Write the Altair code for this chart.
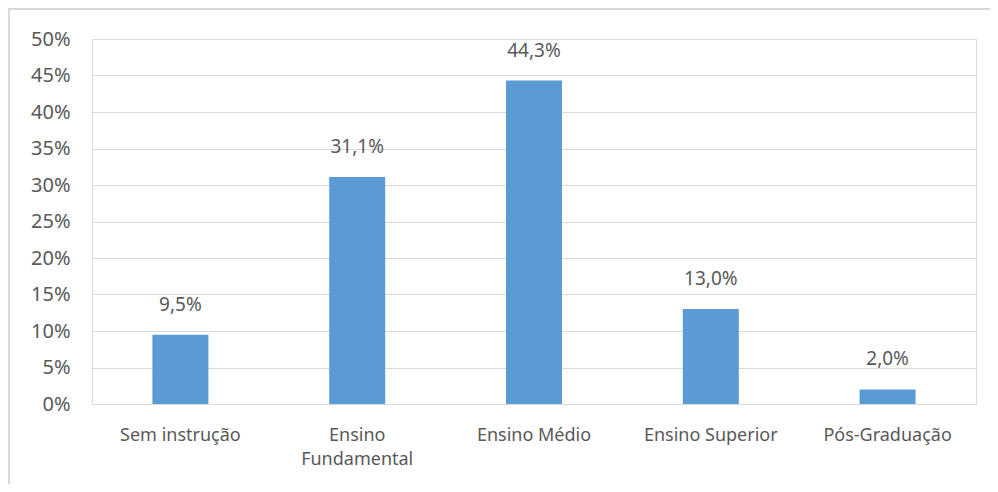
import altair as alt
import pandas as pd

categories = ["Sem instrução", "Ensino Fundamental", "Ensino Médio", "Ensino Superior", "Pós-Graduação"]
values = [9.5, 31.1, 44.3, 13.0, 2.0]
labels = [f"{v:.1f}%".replace(".", ",") for v in values]
y_ticks = [0, 5, 10, 15, 20, 25, 30, 35, 40, 45, 50]

df = pd.DataFrame({"cat": categories, "val": values, "lab": labels})

W, H = 884, 365
PL, PT, PR, PB = 84, 31, 14, 80
FONT = "Noto Sans"
GRAY = "#595959"

x = alt.X("cat:N", sort=categories,
          scale=alt.Scale(paddingInner=0, paddingOuter=0),
          axis=alt.Axis(title=None, labelAngle=0, ticks=False, domainColor="#d9d9d9",
                        domainWidth=1, labelFont=FONT, labelFontSize=18, labelColor=GRAY,
                        labelPadding=22, labelLineHeight=24, labelLimit=300,
                        labelExpr="datum.label == 'Ensino Fundamental' ? ['Ensino', 'Fundamental'] : datum.label"))
y = alt.Y("val:Q", scale=alt.Scale(domain=[0, 50]),
          axis=alt.Axis(title=None, values=y_ticks, labelExpr="datum.value + '%'",
                        ticks=False, domain=False, gridColor="#d9d9d9", gridWidth=1,
                        labelOverlap=False, labelFlush=False,
                        labelFont=FONT, labelFontSize=20, labelColor=GRAY, labelPadding=22))

base = alt.Chart(df).encode(x=x, y=y)
bars = base.mark_bar(size=56, color="#5b9bd5")
text = base.mark_text(baseline="bottom", dy=-20, font=FONT, fontSize=19, color=GRAY).encode(text="lab:N")

frame_left = alt.Chart(df).mark_rule(color="#d9d9d9", strokeWidth=2).encode(
    x=alt.value(-PL + 1), y=alt.value(-PT), y2=alt.value(H + PB))
frame_top = alt.Chart(df).mark_rule(color="#d9d9d9", strokeWidth=2).encode(
    x=alt.value(-PL), x2=alt.value(W + PR), y=alt.value(-PT + 1))

chart = alt.layer(bars, text, frame_left, frame_top).properties(
    width=W, height=H,
    autosize=alt.AutoSizeParams(type="none"),
    padding={"left": PL, "top": PT, "right": PR, "bottom": PB},
).configure_view(stroke=None).configure(background="white")

chart.save("out.html", embed_options={"renderer": "svg", "actions": False})
